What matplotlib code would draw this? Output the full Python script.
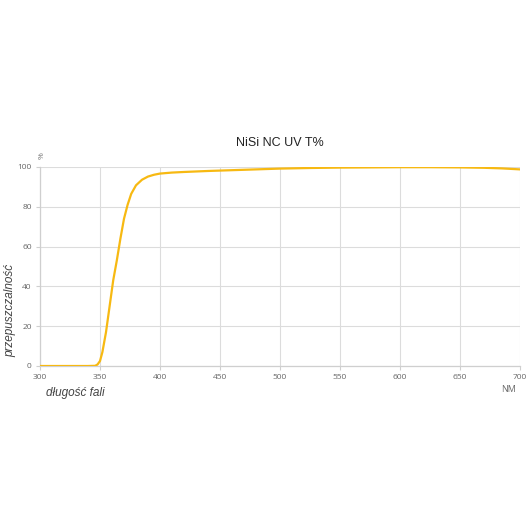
import matplotlib.pyplot as plt

wavelength = [300, 340, 346, 348, 350, 352, 355, 358, 361, 364, 367, 370, 373, 376,
              380, 385, 390, 395, 400, 410, 420, 440, 460, 480, 500, 525, 550, 575,
              600, 625, 650, 670, 685, 700]
transmission = [0, 0, 0.1, 0.8, 2.5, 7, 17, 30, 43, 53, 64, 74, 81, 86.5,
                90.8, 93.6, 95.2, 96.1, 96.7, 97.2, 97.5, 98.0, 98.4, 98.8, 99.2, 99.5, 99.7, 99.8,
                99.9, 99.9, 99.8, 99.6, 99.3, 98.8]
x_ticks = [300, 350, 400, 450, 500, 550, 600, 650, 700]
y_ticks = [0, 20, 40, 60, 80, 100]

plt.rcParams['font.family'] = ['Open Sans', 'DejaVu Sans']
arial = ['Liberation Sans', 'DejaVu Sans']

fig = plt.figure(figsize=(5.3, 5.3), dpi=100)
ax = fig.add_axes([40 / 530, 1 - 366 / 530, 480 / 530, 199 / 530])

ax.plot(wavelength, transmission, color='#f7b912', linewidth=1.6, zorder=3)

ax.set_xlim(300, 700)
ax.set_ylim(0, 100)
ax.set_xticks(x_ticks)
ax.set_yticks(y_ticks)
ax.grid(True, color='#dcdcdc', linewidth=0.8)
ax.set_axisbelow(True)
for side in ['top', 'right']:
    ax.spines[side].set_visible(False)
for side in ['left', 'bottom']:
    ax.spines[side].set_color('#cfcfcf')
    ax.spines[side].set_linewidth(0.9)
ax.tick_params(colors='#cfcfcf', labelcolor='#666666', labelsize=6, length=3, width=0.8, pad=3)

fig.text(280 / 530, 1 - 143 / 530, 'NiSi NC UV T%', ha='center', va='center',
         fontsize=9, color='#222222', family=arial)
fig.text(42 / 530, 1 - 156 / 530, '%', ha='center', va='center', rotation=90,
         fontsize=6, color='#777777')
fig.text(509 / 530, 1 - 390 / 530, 'NM', ha='center', va='center',
         fontsize=6.5, color='#666666')
fig.text(75 / 530, 1 - 393 / 530, 'długość fali', ha='center', va='center',
         fontsize=8.5, style='italic', color='#444444', family=arial)
fig.text(10 / 530, 1 - 310 / 530, 'przepuszczalność', ha='center', va='center',
         rotation=90, fontsize=8.5, style='italic', color='#444444', family=arial)

fig.savefig('out.png', dpi=100)
